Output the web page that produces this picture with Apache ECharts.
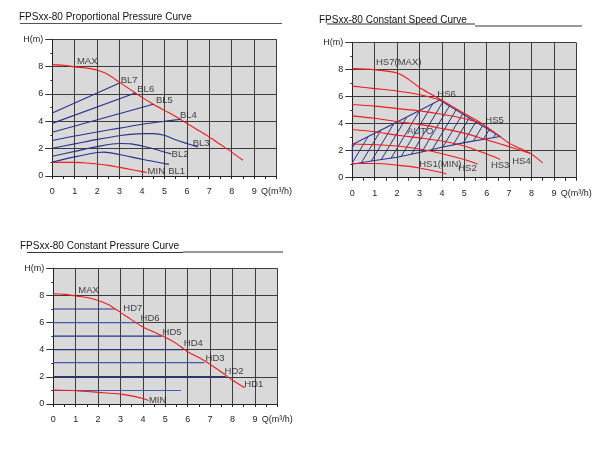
<!DOCTYPE html>
<html>
<head>
<meta charset="utf-8">
<script src="https://cdn.jsdelivr.net/npm/echarts@6/dist/echarts.min.js"></script>
<style>html,body{margin:0;padding:0;background:#fff}#c{width:608px;height:457px}</style>
</head>
<body>
<div id="c"></div>
<script>
// ---------- axis text ----------
const qAxisName = 'Q(m³/h)';
const hAxisName = 'H(m)';
const titles = ['FPSxx-80 Proportional Pressure Curve', 'FPSxx-80 Constant Speed Curve', 'FPSxx-80 Constant Pressure Curve'];

// ---------- Panel 1: proportional pressure ----------
const ppMax = [[0,8.15],[0.5,8.1],[1,7.98],[1.5,7.9],[2,7.75],[2.5,7.4],[3,6.85],[3.5,6.3],[4,5.75],[4.5,5.25],[5,4.8],[5.5,4.35],[6,3.85],[6.5,3.35],[7,2.85],[7.5,2.3],[8,1.75],[8.5,1.15]];
const ppMin = [[0,1.0],[1,1.0],[1.5,0.95],[2,0.88],[2.5,0.78],[3,0.63],[3.5,0.48],[4,0.32],[4.2,0.25]];
const bl7 = [[0,4.6],[3,6.8]];
const bl6 = [[0,3.85],[3.7,6.07]];
const bl5 = [[0,3.2],[4.5,5.25]];
const bl4 = [[0,2.6],[1,2.93],[2,3.22],[3,3.5],[4,3.78],[5,4.0],[5.75,4.15]];
const bl3 = [[0,2.03],[1,2.35],[2,2.68],[3,2.95],[4,3.1],[4.5,3.1],[5,2.98],[5.5,2.65],[6,2.38],[6.5,2.12]];
const bl2 = [[0,1.45],[1,1.8],[2,2.15],[3,2.38],[3.5,2.35],[4,2.2],[4.5,2.0],[5,1.75],[5.3,1.62]];
const bl1 = [[0,1.02],[1,1.4],[2,1.72],[2.3,1.75],[3,1.57],[4,1.22],[5.2,0.85]];
const ppLabels = [['MAX',1.1,8.4],['BL7',3.05,7.02],['BL6',3.79,6.34],['BL5',4.62,5.56],['BL4',5.69,4.46],['BL3',6.26,2.39],['BL2',5.32,1.59],['MIN',4.25,0.32],['BL1',5.17,0.37]];

// ---------- Panel 2: constant speed ----------
const hs7 = [[0,8.08],[1,8.0],[2,7.76],[2.5,7.3],[3,6.68],[3.5,6.2],[4,5.74],[4.5,5.24],[5,4.76],[5.8,4.0],[6.5,3.16],[7,2.56],[7.5,2.16],[7.95,1.8],[8.5,1.1]];
const hs6 = [[0,6.78],[1,6.6],[2,6.42],[3,6.15],[4,5.74]];
const hs5 = [[0,5.42],[1,5.3],[2,5.12],[3,4.95],[4,4.7],[5,4.38],[5.8,4.0]];
const hs4 = [[0,4.58],[1,4.4],[2,4.15],[3,3.95],[4,3.65],[5,3.3],[6,2.8],[7,2.3],[7.95,1.8]];
const hs3 = [[0,3.57],[1,3.4],[2,3.15],[3,2.95],[4,2.72],[5,2.35],[6,1.75],[6.6,1.35]];
const hs2 = [[0,2.5],[1,2.45],[2,2.35],[3,2.12],[4,1.78],[5,1.35],[5.6,1.0]];
const hs1 = [[0,1.05],[1,1.05],[2,0.93],[3,0.72],[4,0.38],[4.2,0.28]];
const autoArea = [[0,1.0],[0,2.45],[1,3.3],[2,4.12],[3,4.98],[3.9,5.75],[6.6,3.05],[6,2.88],[5,2.6],[4,2.25],[3,1.87],[2,1.52],[1,1.27]];
const csLabels = [['HS7(MAX)',1.06,8.52],['HS6',3.8,6.18],['HS5',5.94,4.26],['AUTO',2.45,3.45],['HS4',7.14,1.23],['HS3',6.19,0.89],['HS2',4.73,0.69],['HS1(MIN)',2.99,1.01]];

// ---------- Panel 3: constant pressure ----------
const cpMax = [[0,8.12],[0.5,8.08],[1,7.96],[1.5,7.85],[2,7.63],[2.5,7.3],[2.75,7.02],[3,6.75],[3.5,6.2],[4,5.68],[4.5,5.3],[5,4.92],[5.5,4.45],[6,3.85],[6.5,3.42],[7,2.93],[7.5,2.36],[8,1.75],[8.55,1.2]];
const cpMin = [[0,1.03],[1,0.98],[2,0.86],[3,0.73],[3.5,0.6],[4,0.4],[4.25,0.25]];
const hd7 = [[0,7.0],[2.75,7.0]];
const hd6 = [[0,6.0],[3.8,6.0]];
const hd5 = [[0,5.0],[4.85,5.0]];
const hd4 = [[0,4.0],[5.8,4.0]];
const hd3 = [[0,3.05],[6.75,3.05]];
const hd2 = [[0,2.03],[7.7,2.03]];
const hd1 = [[0,1.0],[5.7,1.0]];
const cpLabels = [['MAX',1.12,8.4],['HD7',3.13,7.02],['HD6',3.9,6.33],['HD5',4.88,5.31],['HD4',5.83,4.45],['HD3',6.8,3.35],['HD2',7.65,2.37],['HD1',8.53,1.47],['MIN',4.27,0.29]];

// ---------- styling ----------
const RED = '#ee1c1c';
const BLUE = '#27338c';
const FONT = "'Liberation Sans', Arial, sans-serif";
const grids = [
  {left: 52.3, top: 39.3, width: 224.3, height: 136.7},
  {left: 352.3, top: 42.7, width: 224, height: 135},
  {left: 53.3, top: 268.3, width: 224, height: 135.7}
];

function xAxis(i) {
  return {
    type: 'value', gridIndex: i, min: 0, max: 10, interval: 1,
    axisLine: {show: true, onZero: false, lineStyle: {color: '#222', width: 1}},
    axisTick: {show: true, length: 3, lineStyle: {color: '#222'}},
    minorTick: {show: true, splitNumber: 2, length: 3, lineStyle: {color: '#222'}},
    splitLine: {show: true, lineStyle: {color: '#3c3c3c', width: 1}},
    axisLabel: {color: '#1e1e1e', fontSize: 9, fontFamily: FONT, margin: 11,
      formatter: v => v === 10 ? qAxisName : String(v)}
  };
}
function yAxis(i) {
  return {
    type: 'value', gridIndex: i, min: 0, max: 10, interval: 2,
    axisLine: {show: true, onZero: false, lineStyle: {color: '#222', width: 1}},
    axisTick: {show: true, length: 7, lineStyle: {color: '#333'}},
    minorTick: {show: true, splitNumber: 2, length: 2, lineStyle: {color: '#333'}},
    splitLine: {show: true, lineStyle: {color: '#3c3c3c', width: 1}},
    axisLabel: {color: '#1e1e1e', fontSize: 9, fontFamily: FONT, margin: 9,
      formatter: v => v === 10 ? hAxisName : String(v)}
  };
}
function line(data, idx, color, w) {
  return {type: 'line', xAxisIndex: idx, yAxisIndex: idx, data: data, showSymbol: false, symbol: 'none',
    smooth: 0.3, lineStyle: {color: color, width: w || 1.1}, silent: true, z: 3};
}
function labels(list, idx) {
  return {type: 'scatter', xAxisIndex: idx, yAxisIndex: idx, symbolSize: 0.1, silent: true, z: 5,
    itemStyle: {color: 'rgba(0,0,0,0)'},
    data: list.map(l => ({name: l[0], value: [l[1], l[2]]})),
    label: {show: true, formatter: '{b}', position: [0, 0], align: 'left', verticalAlign: 'middle',
      color: '#141414', fontSize: 9.5, fontFamily: FONT}};
}

// hatch pattern
const hatch = document.createElement('canvas');
hatch.width = 9; hatch.height = 15;
(function () {
  const g = hatch.getContext('2d');
  g.strokeStyle = BLUE; g.lineWidth = 1;
  for (const off of [-9, 0, 9]) {
    g.beginPath(); g.moveTo(off - 1, 15 + 15 / 9); g.lineTo(off + 10, -15 / 9); g.stroke();
  }
})();

const series = [
  line(ppMax, 0, RED), line(ppMin, 0, RED),
  line(bl7, 0, BLUE), line(bl6, 0, BLUE), line(bl5, 0, BLUE), line(bl4, 0, BLUE),
  line(bl3, 0, BLUE), line(bl2, 0, BLUE), line(bl1, 0, BLUE),
  labels(ppLabels, 0),
  {type: 'custom', xAxisIndex: 1, yAxisIndex: 1, data: [[0, 0]], silent: true, z: 2,
    renderItem: function (params, api) {
      const pts = autoArea.map(p => api.coord(p));
      return {type: 'polygon', shape: {points: pts},
        style: {fill: {image: hatch, repeat: 'repeat'}, stroke: BLUE, lineWidth: 1.1}};
    }},
  line(hs7, 1, RED), line(hs6, 1, RED), line(hs5, 1, RED), line(hs4, 1, RED),
  line(hs3, 1, RED), line(hs2, 1, RED), line(hs1, 1, RED),
  labels(csLabels, 1),
  line(hd7, 2, BLUE), line(hd6, 2, '#4a58a8'), line(hd5, 2, BLUE), line(hd4, 2, BLUE),
  line(hd3, 2, '#4a58a8'), line(hd2, 2, BLUE), line(hd1, 2, '#4a58a8'),
  line(cpMax, 2, RED), line(cpMin, 2, RED),
  labels(cpLabels, 2)
];

const titleFont = "10px 'Liberation Sans', Arial, sans-serif";
const chart = echarts.init(document.getElementById('c'), null, {renderer: 'canvas'});
chart.setOption({
  animation: false,
  backgroundColor: '#fff',
  grid: grids.map(g => Object.assign({show: true, backgroundColor: '#d9d9d9', borderWidth: 0}, g)),
  xAxis: [xAxis(0), xAxis(1), xAxis(2)],
  yAxis: [yAxis(0), yAxis(1), yAxis(2)],
  graphic: [
    {type: 'text', left: 19, top: 12, style: {text: titles[0], font: titleFont, fill: '#111'}},
    {type: 'line', shape: {x1: 20, y1: 23.5, x2: 282, y2: 23.5}, style: {stroke: '#555', lineWidth: 1}},
    {type: 'text', left: 319, top: 15, style: {text: titles[1], font: titleFont, fill: '#111'}},
    {type: 'line', shape: {x1: 327, y1: 24, x2: 475, y2: 24}, style: {stroke: '#333', lineWidth: 1}},
    {type: 'line', shape: {x1: 475, y1: 26, x2: 582, y2: 26}, style: {stroke: '#333', lineWidth: 1}},
    {type: 'text', left: 20, top: 241, style: {text: titles[2], font: titleFont, fill: '#111'}},
    {type: 'line', shape: {x1: 27, y1: 252.5, x2: 183, y2: 252.5}, style: {stroke: '#333', lineWidth: 1}},
    {type: 'line', shape: {x1: 183, y1: 252, x2: 283, y2: 252}, style: {stroke: '#333', lineWidth: 1}}
  ],
  series: series
});
</script>
</body>
</html>
